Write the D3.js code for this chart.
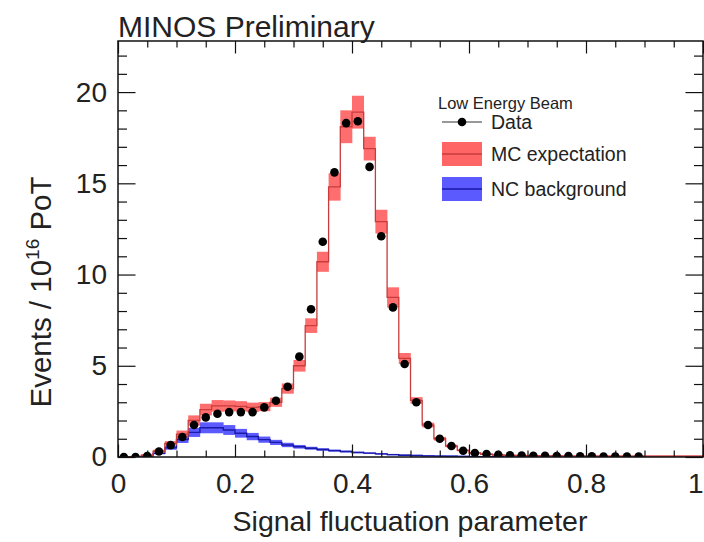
<!DOCTYPE html>
<html><head><meta charset="utf-8">
<script src="https://cdn.jsdelivr.net/npm/d3@7"></script>
<style>
html,body{margin:0;padding:0;background:#fff;overflow:hidden}
svg{display:block;font-family:"Liberation Sans",Arial,Helvetica,sans-serif}
</style></head><body>
<svg id="chart" width="704" height="542"></svg>
<script>
// Histogram binning: 50 bins of width 0.02 on [0, 1]
const binWidth = 0.02;
const binCenters = [0.01,0.03,0.05,0.07,0.09,0.11,0.13,0.15,0.17,0.19,
                    0.21,0.23,0.25,0.27,0.29,0.31,0.33,0.35,0.37,0.39,
                    0.41,0.43,0.45,0.47,0.49,0.51,0.53,0.55,0.57,0.59,
                    0.61,0.63,0.65,0.67,0.69,0.71,0.73,0.75,0.77,0.79,
                    0.81,0.83,0.85,0.87,0.89,0.91,0.93,0.95,0.97,0.99];

// Observed events per 1e16 PoT (first 45 bins)
const dataValues = [0,0,0.05,0.3,0.65,1.1,1.75,2.17,2.37,2.46,
                    2.46,2.46,2.72,3.08,3.85,5.5,8.1,11.8,15.6,18.3,
                    18.4,15.9,12.1,8.2,5.1,3.0,1.75,1.0,0.6,0.34,
                    0.22,0.16,0.12,0.1,0.08,0.07,0.06,0.05,0.05,0.04,
                    0.04,0.03,0.03,0.03,0.02];

// MC expectation and its systematic band
const mcValues = [0,0.02,0.1,0.32,0.75,1.25,2.0,2.6,2.8,2.8,
                  2.78,2.72,2.76,3.0,3.75,5.0,7.2,10.7,14.8,18.1,
                  18.9,16.9,12.9,8.75,5.4,3.1,1.75,1.0,0.6,0.36,
                  0.22,0.15,0.11,0.09,0.08,0.07,0.06,0.06,0.05,0.05,
                  0.05,0.04,0.04,0.04,0.04,0.04,0.04,0.04,0.04,0.04];
const mcErrors = [0,0.02,0.05,0.08,0.12,0.2,0.28,0.32,0.32,0.3,
                  0.28,0.26,0.25,0.25,0.28,0.32,0.4,0.55,0.75,0.9,
                  0.9,0.65,0.65,0.55,0.3,0.18,0.13,0.1,0.07,0.05,
                  0.03,0.03,0.02,0.02,0.02,0.02,0.02,0.02,0.02,0.02,
                  0.02,0.02,0.02,0.02,0.02,0.02,0.02,0.02,0.02,0.02];

// NC background and its band
const ncValues = [0,0.01,0.06,0.2,0.5,0.95,1.35,1.6,1.6,1.48,
                  1.3,1.12,0.95,0.8,0.66,0.56,0.48,0.41,0.35,0.3,
                  0.25,0.21,0.17,0.13,0.1,0.08,0.06,0.05,0.04,0.03,
                  0.02,0.015,0.01,0.01,0.01,0.01,0.005,0.005,0.005,0.005,
                  0,0,0,0,0,0,0,0,0,0];
const ncErrors = [0,0.01,0.02,0.05,0.1,0.18,0.25,0.3,0.3,0.27,
                  0.24,0.2,0.17,0.14,0.12,0.1,0.08,0.07,0.06,0.05,
                  0.04,0.035,0.03,0.025,0.02,0.02,0.015,0.01,0.01,0.01,
                  0.01,0.01,0.005,0.005,0.005,0.005,0.005,0.005,0.005,0.005,
                  0,0,0,0,0,0,0,0,0,0];

const xTickValues = [0, 0.2, 0.4, 0.6, 0.8, 1];
const xTickLabels = ["0", "0.2", "0.4", "0.6", "0.8", "1"];
const xMinorTicks = [0.05,0.1,0.15,0.25,0.3,0.35,0.45,0.5,0.55,0.65,0.7,0.75,0.85,0.9,0.95];
const yTickValues = [0, 5, 10, 15, 20];
const yMinorTicks = [1,2,3,4,6,7,8,9,11,12,13,14,16,17,18,19,21,22];

const svg = d3.select("#chart");
const frame = {left: 118, right: 703, top: 41, bottom: 457};
const x = d3.scaleLinear().domain([0, 1]).range([frame.left, frame.right]);
const y = d3.scaleLinear().domain([0, 22.8]).range([frame.bottom, frame.top]);

svg.append("defs").append("clipPath").attr("id", "plotClip")
  .append("rect").attr("x", frame.left).attr("y", frame.top)
  .attr("width", frame.right - frame.left).attr("height", frame.bottom - frame.top);

const plot = svg.append("g").attr("clip-path", "url(#plotClip)");

function bins(values, errors) {
  return values.map((v, i) => ({
    lo: binCenters[i] - binWidth / 2,
    hi: binCenters[i] + binWidth / 2,
    v: v, e: errors ? errors[i] : 0
  }));
}
function stepPoints(bs) {
  const pts = [];
  bs.forEach(b => { pts.push([b.lo, b.v]); pts.push([b.hi, b.v]); });
  return pts;
}
const line = d3.line().x(d => x(d[0])).y(d => y(d[1]));
const bandTop = d => y(d.v + Math.max(d.e, 0.04));
const bandBot = d => y(d.v - Math.max(d.e, 0.04));

// NC background band + line
const ncBins = bins(ncValues, ncErrors);
plot.append("g").selectAll("rect").data(ncBins).join("rect")
  .attr("x", d => x(d.lo)).attr("width", d => x(d.hi) - x(d.lo) + 0.3)
  .attr("y", bandTop).attr("height", d => bandBot(d) - bandTop(d))
  .attr("fill", "#4848ff").attr("fill-opacity", 0.9);
plot.append("path").datum(stepPoints(ncBins).filter(p => p[0] <= 0.66))
  .attr("d", line).attr("fill", "none").attr("stroke", "#1a1aa8").attr("stroke-width", 1.4);

// MC expectation band + line
const mcBins = bins(mcValues, mcErrors);
plot.append("g").selectAll("rect").data(mcBins).join("rect")
  .attr("x", d => x(d.lo)).attr("width", d => x(d.hi) - x(d.lo) + 0.3)
  .attr("y", bandTop).attr("height", d => bandBot(d) - bandTop(d))
  .attr("fill", "#ff4a4a").attr("fill-opacity", 0.8);
plot.append("path").datum(stepPoints(mcBins))
  .attr("d", line).attr("fill", "none").attr("stroke", "#c83c3c").attr("stroke-width", 1.3);

// Data points
plot.append("g").selectAll("circle").data(dataValues).join("circle")
  .attr("cx", (d, i) => x(binCenters[i])).attr("cy", d => y(d))
  .attr("r", 4.3).attr("fill", "#000");

// Axes with inward ticks on all four sides
const axisG = svg.append("g");
function styleAxis(g) {
  g.select(".domain").remove();
  g.selectAll(".tick line").attr("stroke", "#111").attr("stroke-width", 1.2);
}
axisG.append("g").attr("transform", `translate(0,${frame.bottom})`)
  .call(d3.axisBottom(x).tickValues(xMinorTicks).tickSize(-6.5).tickFormat("")).call(styleAxis);
const xMajor = axisG.append("g").attr("transform", `translate(0,${frame.bottom})`)
  .call(d3.axisBottom(x).tickValues(xTickValues).tickSize(-12.5).tickPadding(16)
    .tickFormat((d, i) => xTickLabels[i])).call(styleAxis);
xMajor.selectAll("text").attr("font-size", 28).attr("fill", "#222")
  .attr("font-family", "Liberation Sans, Arial, sans-serif")
  .attr("text-anchor", d => d === 1 ? "end" : "middle");
axisG.append("g").attr("transform", `translate(0,${frame.top})`)
  .call(d3.axisTop(x).tickValues(xMinorTicks).tickSize(-6.5).tickFormat("")).call(styleAxis);
axisG.append("g").attr("transform", `translate(0,${frame.top})`)
  .call(d3.axisTop(x).tickValues(xTickValues).tickSize(-12.5).tickFormat("")).call(styleAxis);

axisG.append("g").attr("transform", `translate(${frame.left},0)`)
  .call(d3.axisLeft(y).tickValues(yMinorTicks).tickSize(-9).tickFormat("")).call(styleAxis);
axisG.append("g").attr("transform", `translate(${frame.left},0)`)
  .call(d3.axisLeft(y).tickValues(yTickValues).tickSize(-17.5).tickPadding(11)
    .tickFormat(d3.format("d"))).call(styleAxis)
  .selectAll("text").attr("font-size", 28).attr("fill", "#222")
  .attr("font-family", "Liberation Sans, Arial, sans-serif");
axisG.append("g").attr("transform", `translate(${frame.right},0)`)
  .call(d3.axisRight(y).tickValues(yMinorTicks).tickSize(-9).tickFormat("")).call(styleAxis);
axisG.append("g").attr("transform", `translate(${frame.right},0)`)
  .call(d3.axisRight(y).tickValues(yTickValues).tickSize(-17.5).tickFormat("")).call(styleAxis);

svg.append("rect").attr("x", frame.left).attr("y", frame.top)
  .attr("width", frame.right - frame.left).attr("height", frame.bottom - frame.top)
  .attr("fill", "none").attr("stroke", "#111").attr("stroke-width", 1.5);

// Titles
svg.append("text").attr("x", 118).attr("y", 37).attr("font-size", 30).attr("fill", "#222")
  .text("MINOS Preliminary");
svg.append("text").attr("x", 410).attr("y", 531).attr("text-anchor", "middle")
  .attr("font-size", 28.5).attr("fill", "#222").text("Signal fluctuation parameter");
const yt = svg.append("text").attr("transform", "translate(51,292) rotate(-90)")
  .attr("text-anchor", "middle").attr("font-size", 29.5).attr("fill", "#222");
yt.append("tspan").text("Events / 10");
yt.append("tspan").attr("font-size", 19).attr("dy", -12).text("16");
yt.append("tspan").attr("dy", 12).text(" PoT");

// Legend
const lg = svg.append("g").attr("fill", "#222");
lg.append("text").attr("x", 438).attr("y", 109).attr("font-size", 16.5).text("Low Energy Beam");
lg.append("line").attr("x1", 442).attr("x2", 482).attr("y1", 122).attr("y2", 122)
  .attr("stroke", "#333").attr("stroke-width", 1);
lg.append("circle").attr("cx", 462).attr("cy", 122).attr("r", 4.3).attr("fill", "#000");
lg.append("text").attr("x", 491).attr("y", 129).attr("font-size", 19.5).text("Data");
lg.append("rect").attr("x", 442).attr("y", 142).attr("width", 40).attr("height", 24)
  .attr("fill", "#ff4a4a").attr("fill-opacity", 0.85);
lg.append("line").attr("x1", 442).attr("x2", 482).attr("y1", 154).attr("y2", 154)
  .attr("stroke", "#c83c3c").attr("stroke-width", 1.3);
lg.append("text").attr("x", 491).attr("y", 160.5).attr("font-size", 19.5).text("MC expectation");
lg.append("rect").attr("x", 442).attr("y", 177).attr("width", 40).attr("height", 24)
  .attr("fill", "#4848ff").attr("fill-opacity", 0.9);
lg.append("line").attr("x1", 442).attr("x2", 482).attr("y1", 189).attr("y2", 189)
  .attr("stroke", "#1a1aa8").attr("stroke-width", 1.3);
lg.append("text").attr("x", 491).attr("y", 195.5).attr("font-size", 19.5).text("NC background");
</script>
</body></html>
